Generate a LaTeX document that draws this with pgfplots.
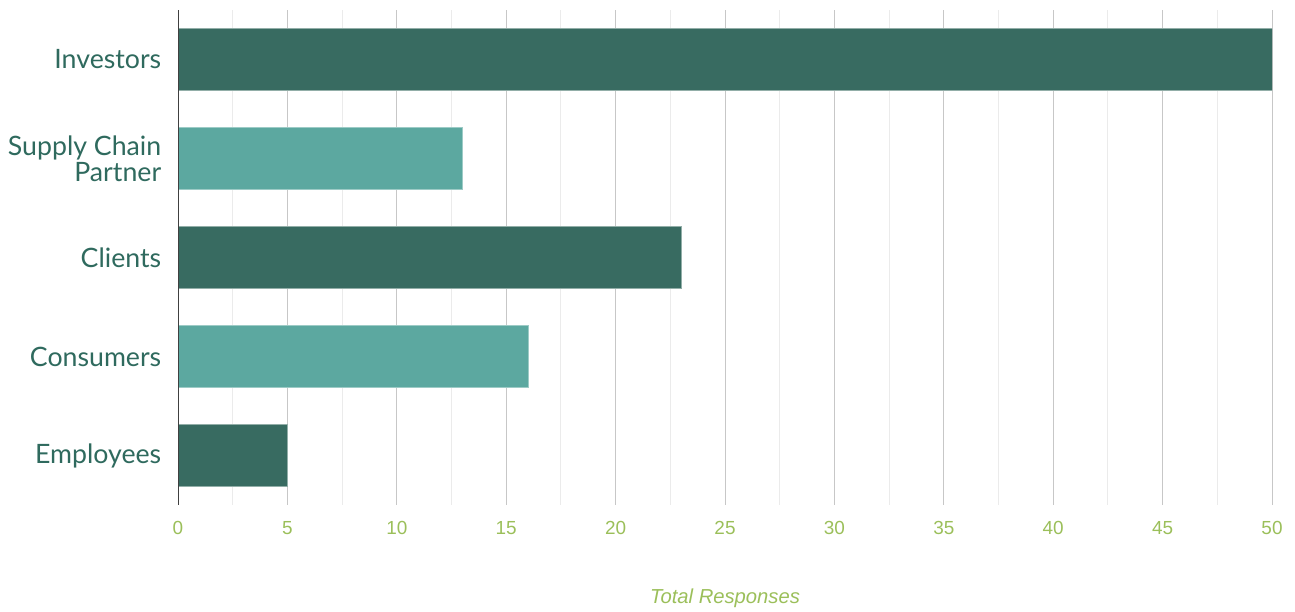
\documentclass[border=0pt]{standalone}
\usepackage{fontspec}
\setmainfont{Lato}
\newfontfamily\tickfont{Liberation Sans}
\usepackage{pgfplots}
\pgfplotsset{compat=1.18}
\definecolor{darkbar}{HTML}{386B61}
\definecolor{lightbar}{HTML}{5CA8A0}
\definecolor{labteal}{HTML}{2F6A5E}
\definecolor{tickgreen}{HTML}{9BBF5A}
\begin{document}
\begin{tikzpicture}[x=1bp,y=1bp]
\path[use as bounding box] (0,0) rectangle (1295,612);
\begin{axis}[
  at={(178bp,107bp)}, anchor=south west,
  scale only axis, width=1094bp, height=495bp,
  xmin=0, xmax=50, ymin=-0.5, ymax=4.5,
  xbar, bar width=0.62, bar shift=0pt,
  xtick={0,5,...,50}, minor x tick num=1,
  xmajorgrids, xminorgrids,
  major grid style={color=black!22, line width=1bp},
  minor grid style={color=black!8, line width=1bp},
  tick style={draw=none},
  axis line style={draw=none},
  ytick={0,...,4},
  yticklabels={Employees,Consumers,Clients,{Supply Chain\\Partner},Investors},
  yticklabel style={align=right, font=\fontsize{26.8}{26}\selectfont, text=labteal, xshift=-9bp},
  /pgf/number format/assume math mode=true,
  xticklabel style={font=\tickfont\fontsize{19}{20}\selectfont, text=tickgreen,
    text height=13.5bp, text depth=0pt, anchor=north, yshift=-12bp},
  xlabel={Total Responses},
  xlabel style={font=\tickfont\itshape\fontsize{20.3}{20}\selectfont, text=tickgreen,
    at={(axis description cs:0.5,0)}, anchor=center, yshift=-93bp},
]
\addplot[fill=darkbar, draw=darkbar!55!white, line width=1bp] coordinates {(50,4) (23,2) (5,0)};
\addplot[fill=lightbar, draw=lightbar!60!white, line width=1bp] coordinates {(13,3) (16,1)};
\draw[black!75, line width=1bp] (axis cs:0,-0.5) -- (axis cs:0,4.5);
\end{axis}
\end{tikzpicture}
\end{document}
